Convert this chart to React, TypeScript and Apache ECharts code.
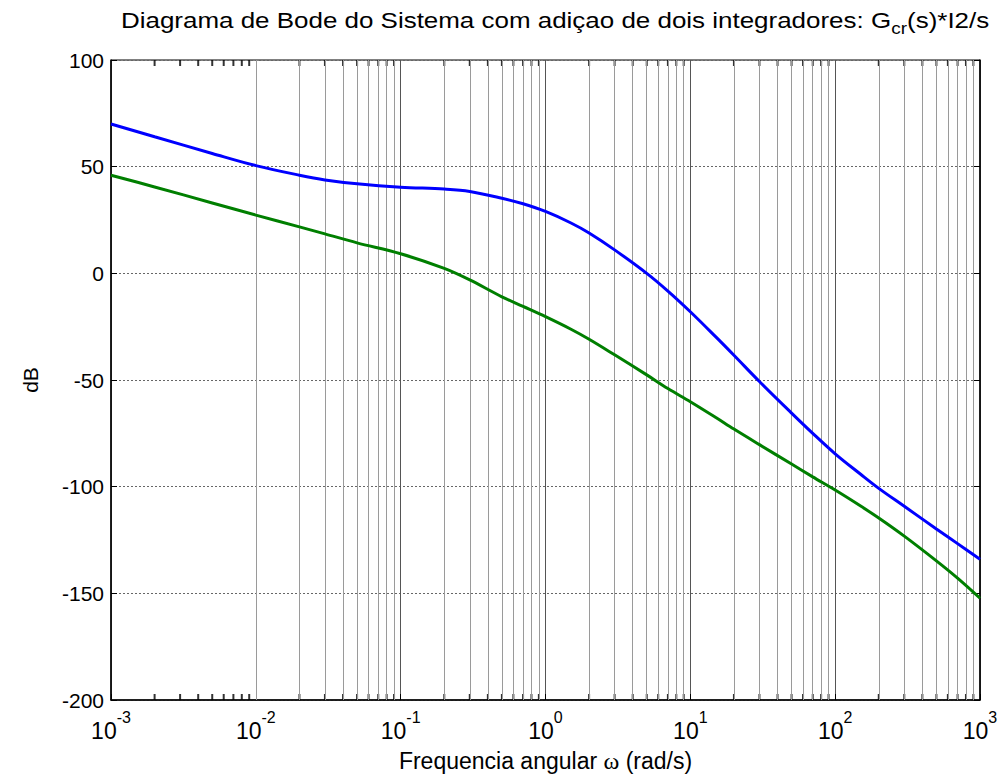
import React, { useEffect, useRef } from "react";
import * as echarts from "echarts";

const FREQ = [0.001, 0.002, 0.005, 0.01, 0.02, 0.03, 0.05, 0.1, 0.2, 0.3, 0.5, 0.7, 1, 1.5, 2, 3, 5, 7, 10, 15, 20, 30, 50, 70, 100, 150, 200, 300, 500, 700, 1000];
const MAG_BLUE = [70, 64, 56.2, 50.5, 46, 43.8, 42, 40.4, 39.5, 38.4, 35.2, 32.6, 29, 23.6, 18.9, 11, 0, -8.3, -18, -29.8, -38.4, -50.7, -65.5, -75, -84.6, -94.2, -100.8, -109.2, -119.8, -126.7, -134];
const MAG_GREEN = [46, 40.5, 33, 27.3, 21.8, 18.5, 14.3, 9.2, 2.3, -3.1, -11, -15.5, -20.3, -26.2, -30.9, -38.2, -47.6, -54, -60.2, -67.6, -73, -80.3, -89.4, -95.4, -101.6, -109.1, -114.7, -123.2, -134.8, -142.9, -152.3];
const DECADES = [-3, -2, -1, 0, 1, 2];
const MINOR_MULTS = [2, 3, 4, 5, 6, 7, 8, 9];
const Y_MIN = -200;
const Y_MAX = 100;
const Y_STEP = 50;

const TITLE_MAIN = "Diagrama de Bode do Sistema com adiçao de dois integradores: G";
const TITLE_SUB = "cr";
const TITLE_END = "(s)*I2/s";
const X_NAME_A = "Frequencia angular ";
const X_NAME_W = "ω";
const X_NAME_B = " (rad/s)";
const Y_NAME = "dB";

const FONT = "Liberation Sans, Arial, Helvetica, sans-serif";

export default function App() {
  const ref = useRef<HTMLDivElement>(null);
  useEffect(() => {
    if (!ref.current) return;
    const chart = echarts.init(ref.current, undefined, { renderer: "svg" });
    const minor: number[] = [];
    DECADES.forEach((d) => MINOR_MULTS.forEach((m) => minor.push(m * Math.pow(10, d))));
    const blue = FREQ.map((f, i) => [f, MAG_BLUE[i]]);
    const green = FREQ.map((f, i) => [f, MAG_GREEN[i]]);

    chart.setOption({
      animation: false,
      backgroundColor: "#fff",
      textStyle: { fontFamily: FONT },
      graphic: [
        {
          type: "text",
          x: 555,
          y: 9,
          scaleX: 1.18,
          silent: true,
          style: {
            text: `{t|${TITLE_MAIN}}{s|${TITLE_SUB}}{t|${TITLE_END}}`,
            align: "center",
            textAlign: "center",
            verticalAlign: "top",
            rich: {
              t: { fontSize: 22, fill: "#000", fontFamily: FONT, lineHeight: 28, verticalAlign: "top" },
              s: { fontSize: 16, fill: "#000", fontFamily: FONT, padding: [12, 0, 0, 0], verticalAlign: "top" },
            },
          },
        },
      ],
      grid: { left: 111, right: 22, top: 60, bottom: 80, show: true, borderColor: "#000", borderWidth: 1 },
      xAxis: [
        {
          type: "log",
          logBase: 10,
          min: 0.001,
          max: 1000,
          splitNumber: 6,
          axisLine: { show: true, onZero: false, lineStyle: { color: "#000", width: 1.5 } },
          axisTick: { show: true, inside: true, length: 6, lineStyle: { color: "#000" } },
          splitLine: { show: true, lineStyle: { color: "#555", width: 1 } },
          axisLabel: {
            margin: 9,
            formatter: (v: number) => `{b|10}{p|${Math.round(Math.log10(v))}}`,
            rich: {
              b: { fontSize: 23, color: "#000", fontFamily: FONT, padding: [10, 0, 0, 0], verticalAlign: "top" },
              p: { fontSize: 16, color: "#000", fontFamily: FONT, verticalAlign: "top" },
            },
          },
          name: `{a|${X_NAME_A}}{w|${X_NAME_W}}{a|${X_NAME_B}}`,
          nameLocation: "middle",
          nameGap: 49,
          nameTextStyle: {
            rich: {
              a: { fontSize: 23, color: "#000", fontFamily: FONT },
              w: { fontSize: 24, color: "#000", fontFamily: "Liberation Serif, DejaVu Serif, serif" },
            },
          },
        },
      ],
      yAxis: [
        {
          type: "value",
          min: Y_MIN,
          max: Y_MAX,
          interval: Y_STEP,
          axisLine: { show: true, lineStyle: { color: "#000", width: 1.5 } },
          axisTick: { show: true, inside: true, length: 6, lineStyle: { color: "#000" } },
          splitLine: { show: true, lineStyle: { color: "#666", width: 1, type: [2, 2] } },
          axisLabel: { fontSize: 21, color: "#000", margin: 7, fontFamily: FONT },
          name: Y_NAME,
          nameLocation: "middle",
          nameGap: 70,
          nameTextStyle: { fontSize: 21, color: "#000", fontFamily: FONT },
        },
        {
          type: "value",
          position: "right",
          min: Y_MIN,
          max: Y_MAX,
          interval: Y_STEP,
          axisLine: { show: true, lineStyle: { color: "#000", width: 1.5 } },
          axisTick: { show: true, inside: true, length: 6, lineStyle: { color: "#000" } },
          splitLine: { show: false },
          axisLabel: { show: false },
        },
      ],
      series: [
        {
          type: "line",
          data: [[0.001, Y_MIN]],
          showSymbol: false,
          lineStyle: { opacity: 0 },
          z: 1,
          silent: true,
          markLine: {
            silent: true,
            symbol: ["none", "none"],
            label: { show: false },
            lineStyle: { color: "#9a9a9a", width: 1, type: "solid" },
            data: minor.map((f) => ({ xAxis: f })),
          },
        },
        {
          type: "scatter",
          data: minor.map((f) => [f, Y_MAX]),
          symbol: "rect",
          symbolSize: [2, 6],
          symbolOffset: [0, 3],
          itemStyle: { color: "#000" },
          silent: true,
          z: 2,
        },
        {
          type: "scatter",
          data: minor.map((f) => [f, Y_MIN]),
          symbol: "rect",
          symbolSize: [2, 6],
          symbolOffset: [0, -3],
          itemStyle: { color: "#000" },
          silent: true,
          z: 2,
        },
        {
          type: "line",
          data: blue,
          smooth: 0.35,
          showSymbol: false,
          lineStyle: { color: "#0000ff", width: 3 },
          z: 5,
        },
        {
          type: "line",
          data: green,
          smooth: 0.35,
          showSymbol: false,
          lineStyle: { color: "#007f00", width: 3 },
          z: 5,
        },
      ],
    });
    return () => chart.dispose();
  }, []);
  return <div ref={ref} style={{ position: "fixed", left: 0, top: 0, width: 1002, height: 780, background: "#fff" }} />;
}
